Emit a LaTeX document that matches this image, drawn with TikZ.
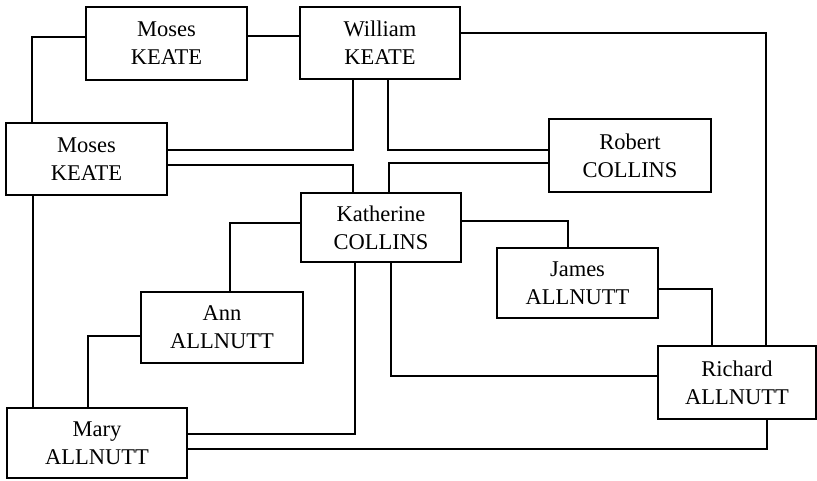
\documentclass[tikz,border=0pt]{standalone}
\usepackage{fontspec}
\setmainfont{Liberation Serif}
\begin{document}
\begin{tikzpicture}[x=1pt,y=-1pt,
  person/.style={draw, line width=1.8pt, outer sep=0pt, inner sep=0pt,
    align=center, font=\fontsize{22.5}{28}\selectfont},
  link/.style={line width=1.8pt}]
\fill[white] (0,0) rectangle (817,480);
\useasboundingbox (0,0) rectangle (817,480);

% family members
\node[person, minimum width=161, minimum height=73] (mk1) at (166.5,43.5) {Moses\\KEATE};
\node[person, minimum width=160, minimum height=72] (wk)  at (380,43)    {William\\KEATE};
\node[person, minimum width=161, minimum height=72] (mk2) at (86.5,159)   {Moses\\KEATE};
\node[person, minimum width=162, minimum height=73] (rc)  at (630,155.5) {Robert\\COLLINS};
\node[person, minimum width=160, minimum height=69] (kc)  at (381,227.5) {Katherine\\COLLINS};
\node[person, minimum width=161, minimum height=70] (ja)  at (577.5,283)  {James\\ALLNUTT};
\node[person, minimum width=162, minimum height=71] (aa)  at (222,327.5)  {Ann\\ALLNUTT};
\node[person, minimum width=180, minimum height=70] (ma)  at (97,443)     {Mary\\ALLNUTT};
\node[person, minimum width=158, minimum height=73] (ra)  at (737,382.5)  {Richard\\ALLNUTT};

% relationship lines
\draw[link] (mk1.west |- 0,37) -| (mk2.north -| 32,0);
\draw[link] (mk1.east |- 0,36) -- (wk.west |- 0,36);
\draw[link] (wk.south -| 353,0) |- (mk2.east |- 0,150);
\draw[link] (wk.south -| 388,0) |- (rc.west |- 0,150);
\draw[link] (mk2.east |- 0,165) -| (kc.north -| 353,0);
\draw[link] (rc.west |- 0,163) -| (kc.north -| 389,0);
\draw[link] (wk.east |- 0,33) -| (ra.north -| 766,0);
\draw[link] (kc.west |- 0,223) -| (aa.north -| 230,0);
\draw[link] (aa.west |- 0,336) -| (ma.north -| 88,0);
\draw[link] (mk2.south -| 33,0) -- (ma.north -| 33,0);
\draw[link] (kc.south -| 355,0) |- (ma.east |- 0,434);
\draw[link] (ma.east |- 0,449) -| (ra.south -| 767,0);
\draw[link] (kc.south -| 391,0) |- (ra.west |- 0,376);
\draw[link] (kc.east |- 0,221) -| (ja.north -| 568,0);
\draw[link] (ja.east |- 0,289) -| (ra.north -| 712,0);
\end{tikzpicture}
\end{document}
